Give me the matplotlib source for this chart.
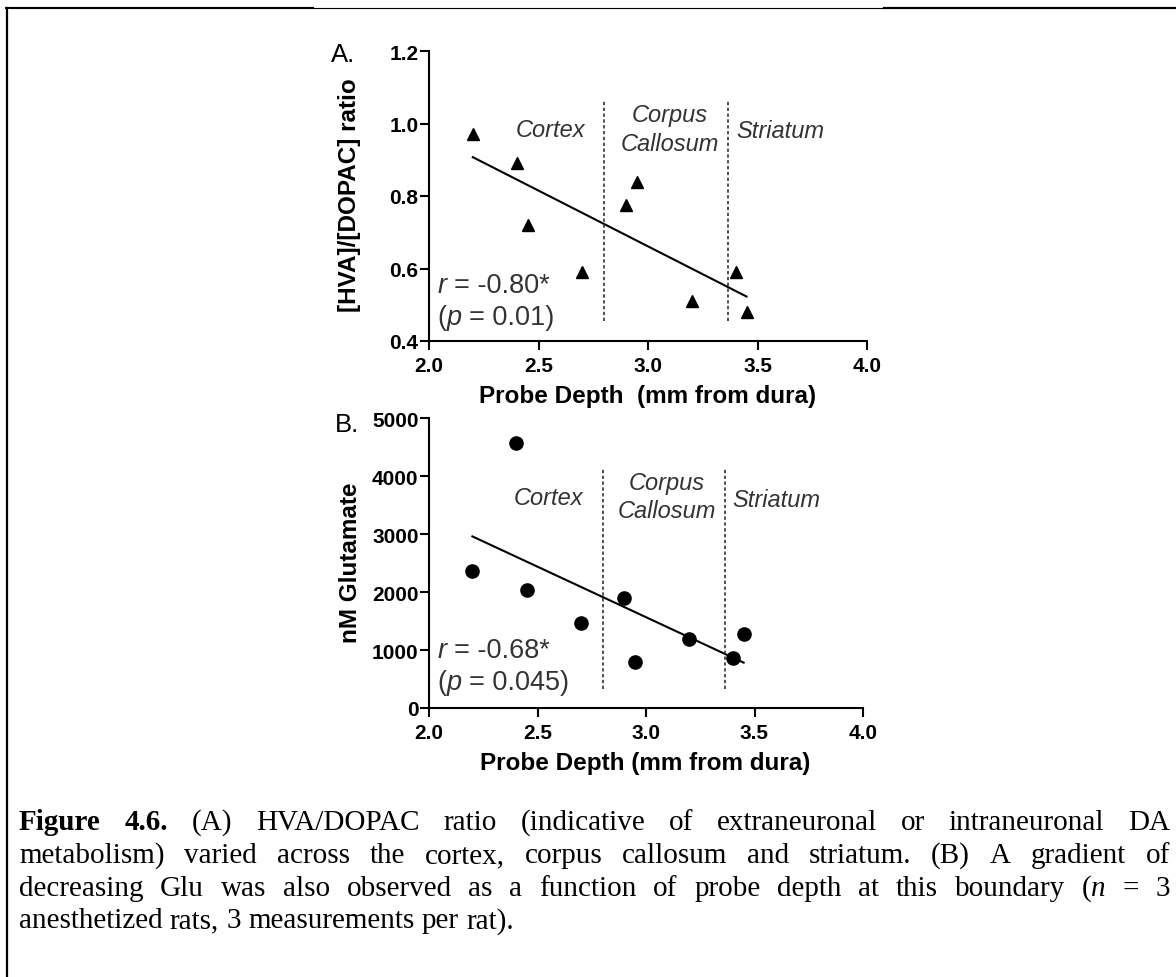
import numpy as np
import matplotlib
matplotlib.use("Agg")
import matplotlib.pyplot as plt

# values
depth = [2.2, 2.4, 2.45, 2.7, 2.9, 2.95, 3.2, 3.4, 3.45]
hva_dopac = [0.97, 0.89, 0.72, 0.59, 0.775, 0.84, 0.51, 0.59, 0.48]
glu_depth = [2.2, 2.4, 2.45, 2.7, 2.9, 2.95, 3.2, 3.4, 3.45]
glutamate = [2370, 4570, 2030, 1470, 1890, 800, 1190, 860, 1280]
boundaries = [2.8, 3.365]
x_ticks = [2.0, 2.5, 3.0, 3.5, 4.0]
ticks_a = [0.4, 0.6, 0.8, 1.0, 1.2]
ticks_b = [0, 1000, 2000, 3000, 4000, 5000]

caption = [
    [[("Figure", "bold")], [("4.6.", "bold")], "(A)", "HVA/DOPAC", "ratio", "(indicative", "of",
     "extraneuronal", "or", "intraneuronal", "DA"],
    ["metabolism)", "varied", "across", "the", "cortex,", "corpus", "callosum", "and", "striatum.",
     "(B)", "A", "gradient", "of"],
    ["decreasing", "Glu", "was", "also", "observed", "as", "a", "function", "of", "probe", "depth",
     "at", "this", "boundary", [("(", "normal"), ("n", "italic")], "=", "3"],
    ["anesthetized", "rats,", "3", "measurements", "per", "rat)."],
]

W, H = 1176, 978
SANS = "Liberation Sans"
SERIF = "Liberation Serif"
GREY = "#333333"

fig = plt.figure(figsize=(W / 100, H / 100), dpi=100)
renderer = fig.canvas.get_renderer()


def put_segments(x, y, segs, size, family, color="black"):
    # x, y in display pixels (origin bottom left); text placed on baseline
    for s, style in segs:
        kw = dict(fontsize=size, family=family, color=color, va="baseline", ha="left")
        if style == "bold":
            kw["fontweight"] = "bold"
        elif style == "italic":
            kw["fontstyle"] = "italic"
        t = fig.text(x / W, y / H, s, **kw)
        x += t.get_window_extent(renderer).width
    return x


def stat_text(ax, x, y, name, rest, size=19.5):
    px, py = ax.transData.transform((x, y))
    sp = 0.278 * size * 100 / 72
    segs = []
    if rest.startswith("("):
        segs.append(("(", "normal"))
        rest = rest[1:]
    segs.append((name, "italic"))
    px = put_segments(px, py, segs, size, SANS, GREY)
    put_segments(px + sp, py, [(rest, "normal")], size, SANS, GREY)


def panel(rect, xs, ys, marker, yticks, ylim, ylabel, xlabel, letter, txt):
    ax = fig.add_axes(rect)
    ax.plot(xs, ys, ls="none", marker=marker, ms=9.5 if marker == "o" else 9,
            color="black", clip_on=False, zorder=3)
    k, b = np.polyfit(xs, ys, 1)
    fx = np.array([min(xs), max(xs)])
    ax.plot(fx, k * fx + b, color="black", lw=1.5)
    lo, hi = txt["vl"]
    for bx in boundaries:
        ax.plot([bx, bx], [lo, hi], color=GREY, lw=1.2, ls=(0, (2, 1.5)))
    ax.set_xlim(2.0, 4.0)
    ax.set_ylim(*ylim)
    ax.set_xticks(x_ticks)
    ax.set_xticklabels(["%.1f" % v for v in x_ticks])
    ax.set_yticks(yticks)
    if isinstance(yticks[0], float):
        ax.set_yticklabels(["%.1f" % v for v in yticks])
    for s in ["top", "right"]:
        ax.spines[s].set_visible(False)
    for s in ["left", "bottom"]:
        ax.spines[s].set_linewidth(1.5)
    ax.tick_params(length=6.5, width=1.5, direction="out")
    ax.tick_params(axis="y", pad=1)
    ax.tick_params(axis="x", pad=4)
    for lab in ax.get_xticklabels() + ax.get_yticklabels():
        lab.set_fontfamily(SANS)
        lab.set_fontweight("bold")
        lab.set_fontsize(15)
    ax.set_xlabel(xlabel, fontsize=17.5, fontweight="bold", family=SANS)
    ax.set_ylabel(ylabel, fontsize=17.5, fontweight="bold", family=SANS)
    ax.xaxis.set_label_coords(0.498, -0.15)
    ax.yaxis.set_label_coords(-0.155, 0.505)
    ax.text(txt["letter"][0], txt["letter"][1], letter, transform=ax.transAxes,
            fontsize=18.5, family=SANS, va="baseline", ha="left")
    kw = dict(fontsize=17, family=SANS, fontstyle="italic", color=GREY, va="baseline")
    ax.text(txt["cortex"][0], txt["cortex"][1], "Cortex", ha="center", **kw)
    ax.text(txt["corpus"][0], txt["corpus"][1], "Corpus", ha="center", **kw)
    ax.text(txt["corpus"][0], txt["callosum"], "Callosum", ha="center", **kw)
    ax.text(txt["striatum"][0], txt["striatum"][1], "Striatum", ha="left", **kw)
    return ax


ax_a = panel([429 / W, 1 - 342 / H, 438 / W, 290 / H], depth, hva_dopac, "^",
             ticks_a, (0.4, 1.2), "[HVA]/[DOPAC] ratio", "Probe Depth  (mm from dura)", "A.",
             dict(vl=(0.455, 1.065), cortex=(2.555, 0.965), corpus=(3.10, 1.008),
                  callosum=0.928, striatum=(3.405, 0.962), letter=(-0.224, 0.966)))
ax_b = panel([429 / W, 1 - 709 / H, 434 / W, 289.7 / H], glu_depth, glutamate, "o",
             ticks_b, (0, 5000), "nM Glutamate", "Probe Depth (mm from dura)", "B.",
             dict(vl=(330, 4150), cortex=(2.55, 3523), corpus=(3.095, 3782),
                  callosum=3293, striatum=(3.40, 3494), letter=(-0.217, 0.956)))

stat_text(ax_a, 2.04, 0.536, "r", "= -0.80*")
stat_text(ax_a, 2.04, 0.447, "p", "(= 0.01)")
stat_text(ax_b, 2.04, 876, "r", "= -0.68*")
stat_text(ax_b, 2.04, 328, "p", "(= 0.045)")

# justified caption
cap_size = 21
left, right = 19, 1170
baselines = [830, 863, 896, 928.5]
for i, words in enumerate(caption):
    words = [w if isinstance(w, list) else [(w, "normal")] for w in words]
    texts = []
    widths = []
    for w in words:
        ts = []
        tw = 0
        for s, style in w:
            kw = dict(fontsize=cap_size, family=SERIF, va="baseline", ha="left")
            if style == "bold":
                kw["fontweight"] = "bold"
            elif style == "italic":
                kw["fontstyle"] = "italic"
            t = fig.text(0, 0, s, **kw)
            ww = t.get_window_extent(renderer).width
            ts.append((t, ww))
            tw += ww
        texts.append(ts)
        widths.append(tw)
    if i < len(caption) - 1:
        gap = (right - left - sum(widths)) / (len(words) - 1)
    else:
        gap = 0.25 * cap_size * 100 / 72
    x = left
    yb = (H - baselines[i]) / H
    for ts, tw in zip(texts, widths):
        xx = x
        for t, ww in ts:
            t.set_position((xx / W, yb))
            xx += ww
        x += tw + gap

# page frame pieces
fig.add_artist(plt.Line2D([7 / W, 7 / W], [0, 1 - 8.5 / H], color="black", lw=1.6))
fig.add_artist(plt.Line2D([6 / W, 313 / W], [1 - 9 / H] * 2, color="black", lw=1.5))
fig.add_artist(plt.Line2D([313 / W, 884 / W], [1 - 8.5 / H] * 2, color="black", lw=0.8))
fig.add_artist(plt.Line2D([884 / W, 1], [1 - 9 / H] * 2, color="black", lw=1.6))

fig.savefig("out.png", dpi=100)
